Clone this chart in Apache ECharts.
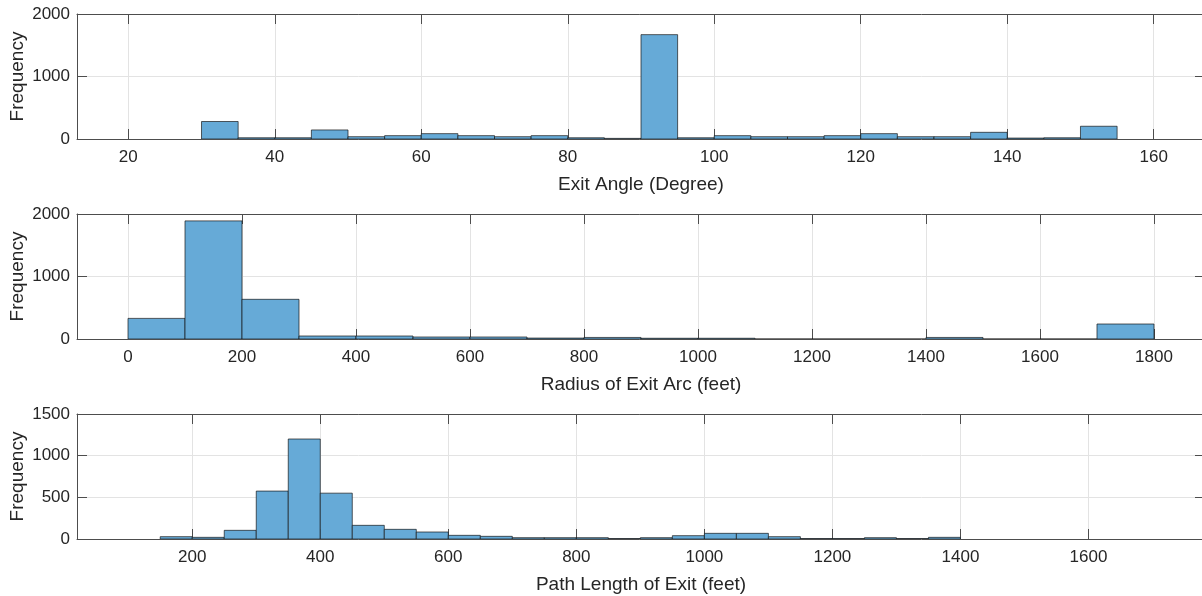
<!DOCTYPE html>
<html>
<head>
<meta charset="utf-8">
<script src="https://cdn.jsdelivr.net/npm/echarts@6/dist/echarts.min.js"></script>
<style>
  html, body { margin: 0; padding: 0; background: #ffffff; }
  #chart { width: 1202px; height: 596px; }
</style>
</head>
<body>
<div id="chart"></div>
<script>
// Exit angle: bin edges (degrees) and counts per bin
const angleEdges = [30, 35, 40, 45, 50, 55, 60, 65, 70, 75, 80, 85, 90, 95, 100, 105, 110, 115, 120, 125, 130, 135, 140, 145, 150, 155];
const angleCounts = [280, 20, 20, 145, 37, 54, 86, 54, 37, 54, 20, 10, 1670, 20, 54, 37, 37, 54, 86, 37, 37, 107, 15, 20, 204];
const angleTicks = [20, 40, 60, 80, 100, 120, 140, 160];

// Radius of exit arc: bin edges (feet) and counts per bin
const radiusEdges = [0, 100, 200, 300, 400, 500, 600, 700, 800, 900, 1000, 1100, 1200, 1300, 1400, 1500, 1600, 1700, 1800];
const radiusCounts = [330, 1890, 635, 48, 48, 32, 32, 15, 25, 12, 12, 0, 0, 0, 25, 0, 0, 240];
const radiusTicks = [0, 200, 400, 600, 800, 1000, 1200, 1400, 1600, 1800];

// Path length of exit: bin edges (feet) and counts per bin
const pathEdges = [150, 200, 250, 300, 350, 400, 450, 500, 550, 600, 650, 700, 750, 800, 850, 900, 950, 1000, 1050, 1100, 1150, 1200, 1250, 1300, 1350, 1400];
const pathCounts = [28, 20, 104, 575, 1200, 550, 164, 116, 84, 44, 32, 16, 16, 16, 6, 16, 40, 68, 68, 28, 6, 6, 16, 6, 20];
const pathTicks = [200, 400, 600, 800, 1000, 1200, 1400, 1600];

const axisTitles = ['Exit Angle (Degree)', 'Radius of Exit Arc (feet)', 'Path Length of Exit (feet)'];
const yName = 'Frequency';

const FONT = '"Liberation Sans", Arial, Helvetica, sans-serif';
const TEXT = '#262626';
const AXIS = '#4d4d4d';
const GRIDLINE = '#e3e3e3';
const FILL = '#66aad7';

const panels = [
  { edges: angleEdges, counts: angleCounts, xTicks: angleTicks, xMin: 13, xMax: 167, yMax: 2000, yStep: 1000, top: 14 },
  { edges: radiusEdges, counts: radiusCounts, xTicks: radiusTicks, xMin: -89.5, xMax: 1889.5, yMax: 2000, yStep: 1000, top: 214 },
  { edges: pathEdges, counts: pathCounts, xTicks: pathTicks, xMin: 20, xMax: 1782, yMax: 1500, yStep: 500, top: 414 }
];

const plainNumber = v => String(v);

function toBins(edges, counts) {
  return counts.map((c, i) => [edges[i], edges[i + 1], c]);
}

function renderBin(params, api) {
  const a = api.coord([api.value(0), 0]);
  const b = api.coord([api.value(1), api.value(2)]);
  return {
    type: 'rect',
    shape: { x: a[0], y: b[1], width: b[0] - a[0], height: a[1] - b[1] },
    style: { fill: FILL, stroke: 'rgba(20,20,20,0.85)', lineWidth: 0.8 }
  };
}

const grids = [], xAxes = [], yAxes = [], series = [];

panels.forEach((p, i) => {
  grids.push({ left: 77, right: -3, top: p.top, height: 125, containLabel: false, outerBoundsMode: 'none' });

  // bottom axis with labels and title
  xAxes.push({
    gridIndex: i, type: 'value', position: 'bottom', min: p.xMin, max: p.xMax,
    axisLine: { show: true, onZero: false, lineStyle: { color: AXIS, width: 1 } },
    axisTick: { show: true, inside: true, length: 10, customValues: p.xTicks, lineStyle: { color: AXIS } },
    axisLabel: { customValues: p.xTicks, formatter: plainNumber, color: TEXT, fontSize: 17, fontFamily: FONT, margin: 10 },
    splitLine: { show: true, lineStyle: { color: GRIDLINE, width: 1 } },
    name: axisTitles[i], nameLocation: 'middle', nameGap: 36, nameMoveOverlap: false,
    nameTextStyle: { color: TEXT, fontSize: 19, fontFamily: FONT }
  });
  // top edge of the box, ticks only
  xAxes.push({
    gridIndex: i, type: 'value', position: 'top', min: p.xMin, max: p.xMax,
    axisLine: { show: true, onZero: false, lineStyle: { color: AXIS, width: 1 } },
    axisTick: { show: true, inside: true, length: 10, customValues: p.xTicks, lineStyle: { color: AXIS } },
    axisLabel: { show: false },
    splitLine: { show: false }
  });
  // left axis with labels and title
  yAxes.push({
    gridIndex: i, type: 'value', position: 'left', min: 0, max: p.yMax, interval: p.yStep,
    axisLine: { show: true, onZero: false, lineStyle: { color: AXIS, width: 1 } },
    axisTick: { show: true, inside: true, length: 10, lineStyle: { color: AXIS } },
    axisLabel: { formatter: plainNumber, color: TEXT, fontSize: 17, fontFamily: FONT, margin: 7 },
    splitLine: { show: true, lineStyle: { color: GRIDLINE, width: 1 } },
    name: yName, nameLocation: 'middle', nameGap: 50, nameMoveOverlap: false,
    nameTextStyle: { color: TEXT, fontSize: 19, fontFamily: FONT }
  });
  // right edge of the box, ticks only
  yAxes.push({
    gridIndex: i, type: 'value', position: 'right', min: 0, max: p.yMax, interval: p.yStep,
    axisLine: { show: true, onZero: false, lineStyle: { color: AXIS, width: 1 } },
    axisTick: { show: true, inside: true, length: 10, lineStyle: { color: AXIS } },
    axisLabel: { show: false },
    splitLine: { show: false }
  });

  series.push({
    type: 'custom',
    xAxisIndex: i * 2, yAxisIndex: i * 2,
    renderItem: renderBin,
    encode: { x: [0, 1], y: 2 },
    data: toBins(p.edges, p.counts),
    clip: true,
    silent: true
  });
});

const chart = echarts.init(document.getElementById('chart'), null, { renderer: 'canvas' });
chart.setOption({
  animation: false,
  backgroundColor: '#ffffff',
  grid: grids,
  xAxis: xAxes,
  yAxis: yAxes,
  series: series
});
</script>
</body>
</html>
